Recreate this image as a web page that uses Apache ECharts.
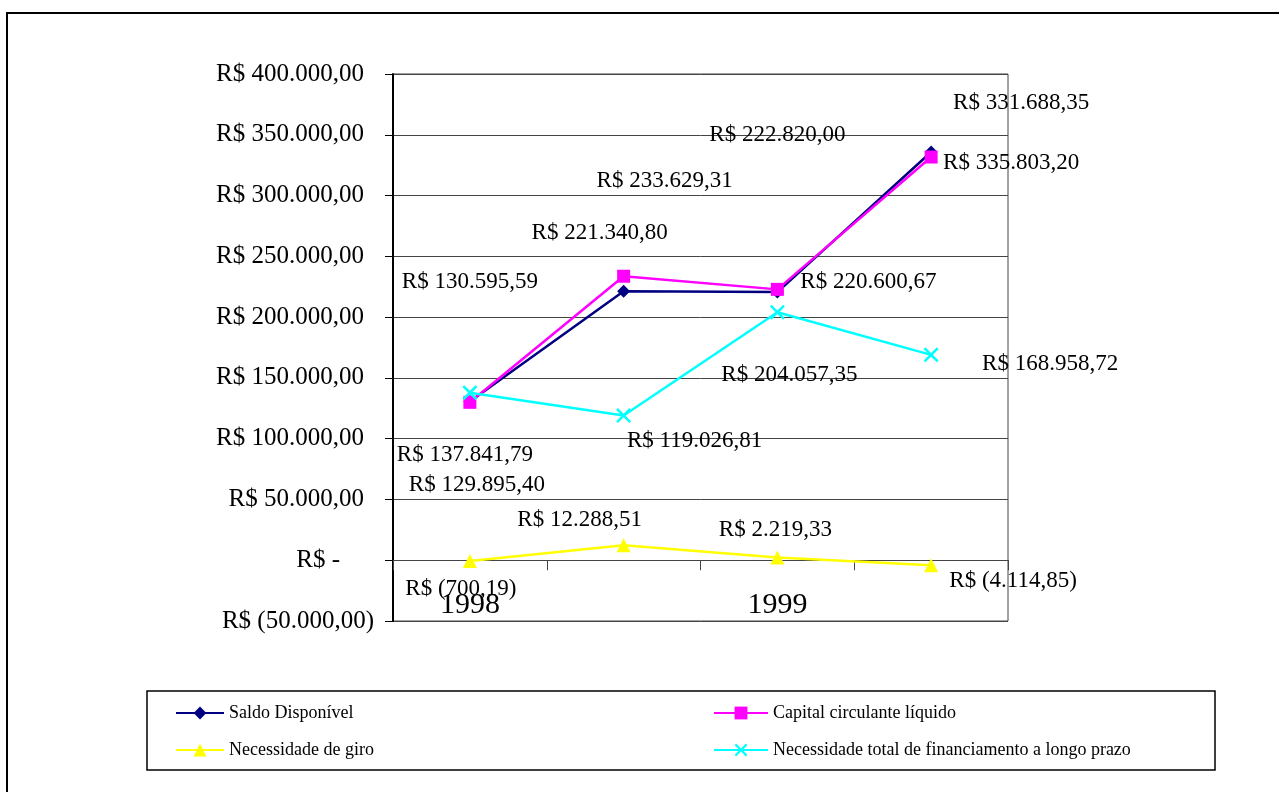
<!DOCTYPE html>
<html>
<head>
<meta charset="utf-8">
<title>Saldo disponível x CCL x NCG</title>
<script src="https://cdn.jsdelivr.net/npm/echarts@6/dist/echarts.min.js"></script>
<style>
  html, body { margin: 0; padding: 0; background: #fff; }
  #chart { width: 1279px; height: 792px; }
</style>
</head>
<body>
<div id="chart"></div>
<script>
// dados
const categorias = ['1998', '', '1999', ''];
const saldoDisponivel = [130595.59, 221340.80, 220600.67, 335803.20];
const capitalCirculante = [129895.40, 233629.31, 222820.00, 331688.35];
const necessidadeGiro = [-700.19, 12288.51, 2219.33, -4114.85];
const necessidadeTotal = [137841.79, 119026.81, 204057.35, 168958.72];

// deslocamento dos rótulos (px) em relação ao ponto
const offsSaldo = [[0, -120], [-24, -58], [91, -10], [80, 11]];
const offsCapital = [[7, 83], [41, -95], [0, -154], [90, -54]];
const offsGiro = [[-9, 28], [-44, -25], [-2, -28], [82, 16]];
const offsTotal = [[-5, 62], [71, 25], [12, 63], [119, 9]];

const fonte = "'Liberation Serif', 'Times New Roman', serif";

// formato contábil R$
function brl(v) {
  if (v === 0) return 'R$ -';
  const p = Math.abs(v).toFixed(2).split('.');
  const s = p[0].replace(/\B(?=(\d{3})+(?!\d))/g, '.') + ',' + p[1];
  return v < 0 ? 'R$ (' + s + ')' : 'R$ ' + s;
}

const chart = echarts.init(document.getElementById('chart'));

const pontos = (vals, offs) => vals.map((v, i) => ({
  value: v,
  label: { offset: offs[i] }
}));

const serie = (nome, vals, offs, cor, simbolo, tam) => ({
  name: nome,
  type: 'line',
  data: pontos(vals, offs),
  symbol: simbolo,
  symbolSize: tam,
  lineStyle: { color: cor, width: 2.5 },
  itemStyle: { color: cor },
  label: {
    show: true,
    position: 'inside',
    formatter: p => brl(p.value),
    color: '#000',
    fontSize: 23,
    fontFamily: fonte
  },
  emphasis: { disabled: true }
});

const xis = 'path://M0,1.2 L1.2,0 L5,3.8 L8.8,0 L10,1.2 L6.2,5 L10,8.8 L8.8,10 L5,6.2 L1.2,10 L0,8.8 L3.8,5 Z';

const option = {
  animation: false,
  backgroundColor: '#fff',
  textStyle: { fontFamily: fonte },
  graphic: [
    {
      type: 'rect',
      shape: { x: 7, y: 13, width: 1300, height: 800 },
      style: { fill: 'none', stroke: '#000', lineWidth: 2 },
      silent: true
    },
    {
      type: 'rect',
      shape: { x: 147, y: 691, width: 1068, height: 79 },
      style: { fill: 'none', stroke: '#000', lineWidth: 1.5 },
      silent: true
    }
  ],
  grid: {
    left: 393, right: 271, top: 74, bottom: 171,
    show: true, borderColor: '#444', borderWidth: 1,
    containLabel: false,
    outerBoundsMode: 'none'
  },
  legend: [
    {
      data: ['Saldo Disponível', 'Necessidade de giro'],
      orient: 'vertical',
      left: 170, top: 699,
      itemWidth: 48, itemHeight: 16, itemGap: 19,
      selectedMode: false,
      textStyle: { fontSize: 18, fontFamily: fonte, color: '#000' }
    },
    {
      data: ['Capital circulante líquido', 'Necessidade total de financiamento a longo prazo'],
      orient: 'vertical',
      left: 708, top: 699,
      itemWidth: 54, itemHeight: 16, itemGap: 19,
      selectedMode: false,
      textStyle: { fontSize: 18, fontFamily: fonte, color: '#000' }
    }
  ],
  xAxis: {
    type: 'category',
    data: categorias,
    boundaryGap: true,
    axisLine: { onZero: true, lineStyle: { color: '#444', width: 1 } },
    axisTick: { show: true, length: 10, inside: false, lineStyle: { color: '#444' } },
    axisLabel: { interval: 0, margin: -31, fontSize: 30, fontFamily: fonte, color: '#000' },
    splitLine: { show: false }
  },
  yAxis: {
    type: 'value',
    min: -50000,
    max: 400000,
    interval: 50000,
    axisLine: { show: true, lineStyle: { color: '#000', width: 2 } },
    axisTick: { show: true, length: 8, lineStyle: { color: '#000' } },
    splitLine: { show: true, lineStyle: { color: '#444', width: 1 } },
    axisLabel: {
      margin: 19,
      color: '#000',
      fontSize: 25,
      fontFamily: fonte,
      formatter: v => {
        const t = brl(v);
        if (v === 0) return '{z|' + t + '}';
        if (v < 0) return '{n|' + t + '}';
        return '{p|' + t + '}';
      },
      rich: {
        p: { fontSize: 25, fontFamily: fonte, color: '#000', padding: [0, 10, 0, 0] },
        z: { fontSize: 25, fontFamily: fonte, color: '#000', padding: [0, 34, 0, 0] },
        n: { fontSize: 25, fontFamily: fonte, color: '#000' }
      }
    }
  },
  series: [
    serie('Saldo Disponível', saldoDisponivel, offsSaldo, '#000080', 'diamond', 13),
    serie('Capital circulante líquido', capitalCirculante, offsCapital, '#FF00FF', 'rect', 13),
    serie('Necessidade de giro', necessidadeGiro, offsGiro, '#FFFF00', 'triangle', 14),
    serie('Necessidade total de financiamento a longo prazo', necessidadeTotal, offsTotal, '#00FFFF', xis, 15)
  ]
};

chart.setOption(option);
</script>
</body>
</html>
